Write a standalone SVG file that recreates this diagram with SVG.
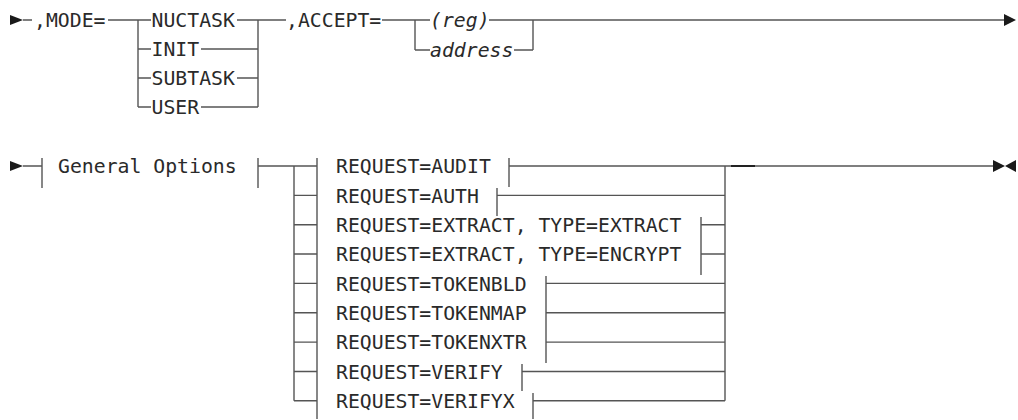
<svg xmlns="http://www.w3.org/2000/svg" width="1018" height="420" viewBox="0 0 1018 420">
<style>
.t{font-family:"DejaVu Sans Mono","Liberation Mono",monospace;font-size:19.8px;fill:#2a2a2a}
.i{font-style:italic}
.l{stroke:#555;stroke-width:1.4;fill:none}
.a{fill:#1a1a1a}
</style>
<rect width="1018" height="420" fill="#fff"/>
<g id="connectors">
<!-- row 1 -->
<path class="l" d="M23 20H32M108 20H151M138 20V107M138 49H151M138 78H151M138 107H151"/>
<path class="l" d="M237 20H286M201 49H258M237 78H258M201 107H258M258 20V107"/>
<path class="l" d="M382 20H430M415 20V50M415 50H430M489 20H1004M514 50H533M533 20V50"/>
<!-- row 2 -->
<path class="l" d="M23 166H42M42 158V188M258 158V188M258 166H317M294 166V400.8M317 158V419"/>
<path class="l" d="M294 195.4H317M294 224.7H317M294 254H317M294 283.4H317M294 312.8H317M294 342.1H317M294 371.5H317M294 400.8H317"/>
<path class="l" d="M509 158V187M509 166H725M497 188V216M497 195.4H725M701 217V275M701 224.7H725M701 254H725M546 276V363M546 283.4H725M546 312.8H725M546 342.1H725M522 364V391M522 371.5H725M533 393V419M533 400.8H725M725 166V400.8M725 166H993"/>
<path d="M731 166H755" stroke="#222" stroke-width="2"/>
<polygon class="a" points="10,15 23,20 10,25"/>
<polygon class="a" points="1004,14 1016,20 1004,26"/>
<polygon class="a" points="10,161 23,166 10,171"/>
<polygon class="a" points="993,160 1005,166 993,172"/>
<polygon class="a" points="1016,160 1005,166 1016,172"/>
</g>
<g id="mode">
<text class="t" x="34" y="27.3">,MODE=</text>
<text class="t" x="151.5" y="27.3">NUCTASK</text>
<text class="t" x="151.5" y="56.3">INIT</text>
<text class="t" x="151.5" y="85.3">SUBTASK</text>
<text class="t" x="151.5" y="114.3">USER</text>
</g>
<g id="accept">
<text class="t" x="286" y="27.3">,ACCEPT=</text>
<text class="t i" x="430" y="27.3">(reg)</text>
<text class="t i" x="430" y="57.3">address</text>
</g>
<g id="general">
<text class="t" x="58" y="173.3">General Options</text>
</g>
<g id="requests">
<text class="t" x="336" y="173.3">REQUEST=AUDIT</text>
<text class="t" x="336" y="202.7">REQUEST=AUTH</text>
<text class="t" x="336" y="232">REQUEST=EXTRACT, TYPE=EXTRACT</text>
<text class="t" x="336" y="261.3">REQUEST=EXTRACT, TYPE=ENCRYPT</text>
<text class="t" x="336" y="290.7">REQUEST=TOKENBLD</text>
<text class="t" x="336" y="320.1">REQUEST=TOKENMAP</text>
<text class="t" x="336" y="349.4">REQUEST=TOKENXTR</text>
<text class="t" x="336" y="378.8">REQUEST=VERIFY</text>
<text class="t" x="336" y="408.1">REQUEST=VERIFYX</text>
</g>
</svg>
